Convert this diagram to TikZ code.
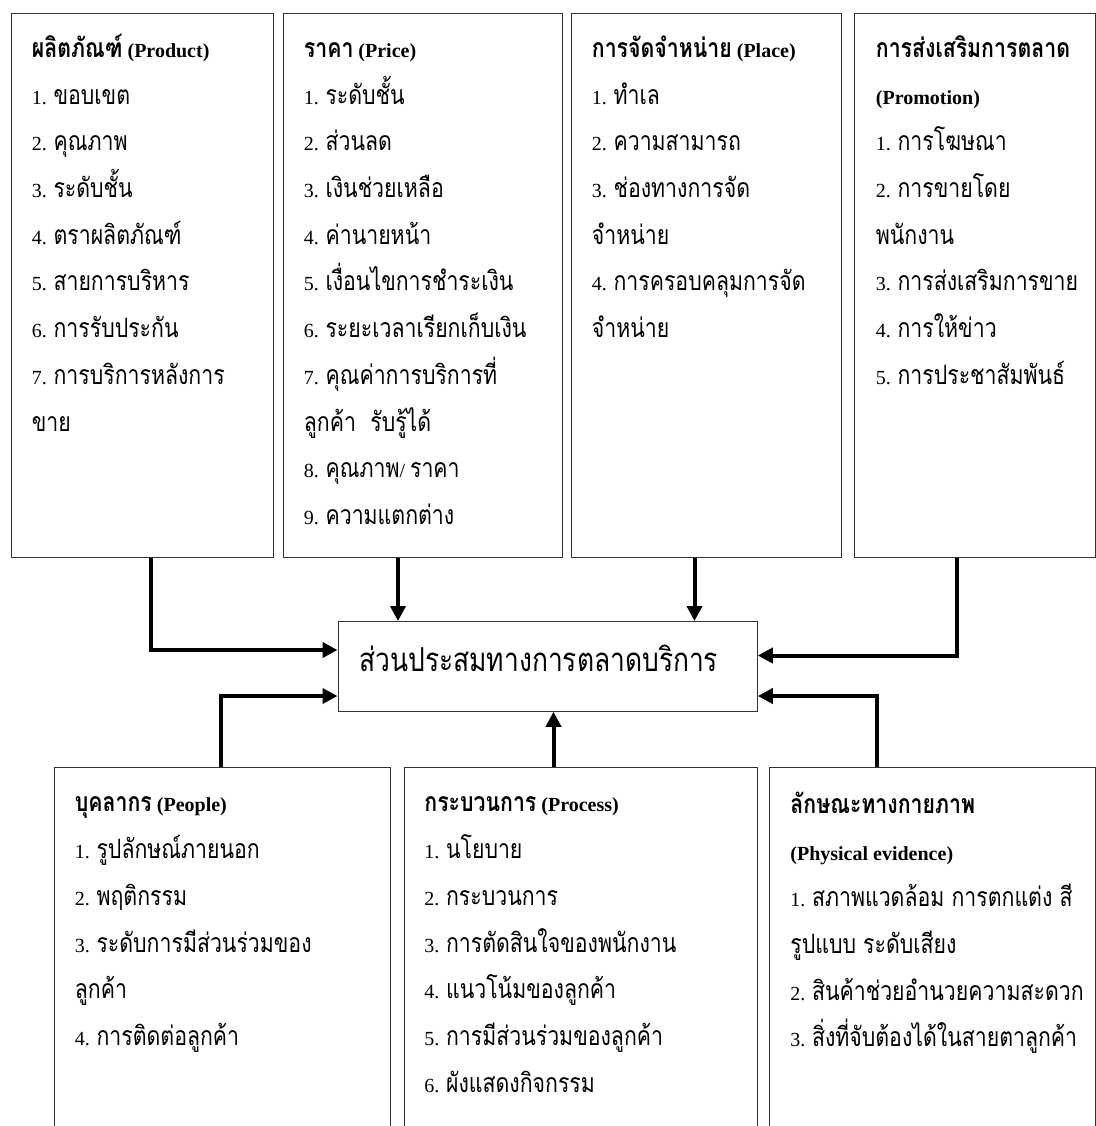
\documentclass[tikz,border=0pt]{standalone}
\usepackage{fontspec}
\setmainfont{Liberation Serif}
\newfontfamily\thai[Script=Thai,Scale=1.33,FakeStretch=0.8]{Loma}
\newcommand\T[1]{{\thai #1}}
\newcommand\Z{\rule{0pt}{14pt}}
\usetikzlibrary{arrows.meta}
\tikzset{
  box/.style={draw=black!80, line width=0.65pt, inner sep=0pt, anchor=north west},
  conn/.style={line width=2pt, -{Triangle[length=7.5pt,width=7.5pt]}},
  txt/.style={inner sep=0pt, anchor=north west, align=left, font=\fontsize{10}{23.35}\selectfont},
}
\begin{document}
\begin{tikzpicture}[x=0.5pt,y=-0.5pt]
\useasboundingbox (0,0) rectangle (1096,1126);
% top boxes
\node[box, minimum width=131pt, minimum height=272pt] (prod) at (10.5,13) {};
\node[box, minimum width=139.5pt, minimum height=272pt] (price) at (283,13) {};
\node[box, minimum width=135pt, minimum height=272pt] (place) at (570.5,13) {};
\node[box, minimum width=120.25pt, minimum height=272pt] (promo) at (854,13) {};
% centre box
\node[box, minimum width=209.5pt, minimum height=44.75pt] (mix) at (337.5,621) {};
% bottom boxes (cut by the lower edge)
\node[box, minimum width=168pt, minimum height=186.75pt] (people) at (54,766.5) {};
\node[box, minimum width=176.5pt, minimum height=186.75pt] (process) at (403.5,766.5) {};
\node[box, minimum width=163pt, minimum height=186.75pt] (phys) at (768.5,766.5) {};

% texts
\node[txt] (prodT) at (31.5,29) {\Z\textbf{\T{ผลิตภัณฑ์} (Product)}\\
1. \T{ขอบเขต}\\
2. \T{คุณภาพ}\\
3. \T{ระดับชั้น}\\
4. \T{ตราผลิตภัณฑ์}\\
5. \T{สายการบริหาร}\\
6. \T{การรับประกัน}\\
7. \T{การบริการหลังการ}\\
\T{ขาย}};

\node[txt] (priceT) at (303.5,29) {\Z\textbf{\T{ราคา} (Price)}\\
1. \T{ระดับชั้น}\\
2. \T{ส่วนลด}\\
3. \T{เงินช่วยเหลือ}\\
4. \T{ค่านายหน้า}\\
5. \T{เงื่อนไขการชำระเงิน}\\
6. \T{ระยะเวลาเรียกเก็บเงิน}\\
7. \T{คุณค่าการบริการที่}\\
\T{ลูกค้า\ \ รับรู้ได้}\\
8. \T{คุณภาพ}/ \T{ราคา}\\
9. \T{ความแตกต่าง}};

\node[txt] (placeT) at (591.5,29) {\Z\textbf{\T{การจัดจำหน่าย} (Place)}\\
1. \T{ทำเล}\\
2. \T{ความสามารถ}\\
3. \T{ช่องทางการจัด}\\
\T{จำหน่าย}\\
4. \T{การครอบคลุมการจัด}\\
\T{จำหน่าย}};

\node[txt] (promoT) at (875.5,29) {\Z\textbf{\T{การส่งเสริมการตลาด}}\\
\textbf{(Promotion)}\\
1. \T{การโฆษณา}\\
2. \T{การขายโดย}\\
\T{พนักงาน}\\
3. \T{การส่งเสริมการขาย}\\
4. \T{การให้ข่าว}\\
5. \T{การประชาสัมพันธ์}};

\node[inner sep=0pt, anchor=base west, font=\fontsize{12.4}{14}\selectfont] (mixT) at (359,671.7) {\T{ส่วนประสมทางการตลาดบริการ}};

\node[txt] (peopleT) at (74.5,783.5) {\Z\textbf{\T{บุคลากร} (People)}\\
1. \T{รูปลักษณ์ภายนอก}\\
2. \T{พฤติกรรม}\\
3. \T{ระดับการมีส่วนร่วมของ}\\
\T{ลูกค้า}\\
4. \T{การติดต่อลูกค้า}};

\node[txt] (processT) at (424,783.5) {\Z\textbf{\T{กระบวนการ} (Process)}\\
1. \T{นโยบาย}\\
2. \T{กระบวนการ}\\
3. \T{การตัดสินใจของพนักงาน}\\
4. \T{แนวโน้มของลูกค้า}\\
5. \T{การมีส่วนร่วมของลูกค้า}\\
6. \T{ผังแสดงกิจกรรม}};

\node[txt] (physT) at (790,785) {\Z\textbf{\T{ลักษณะทางกายภาพ}}\\
\textbf{(Physical evidence)}\\
1. \T{สภาพแวดล้อม การตกแต่ง สี}\\
\T{รูปแบบ ระดับเสียง}\\
2. \T{สินค้าช่วยอำนวยความสะดวก}\\
3. \T{สิ่งที่จับต้องได้ในสายตาลูกค้า}};

% connectors
\draw[conn] (prod.south -| 151,0) |- (mix.west |- 0,650);
\draw[conn] (price.south -| 398,0) -- (mix.north -| 398,0);
\draw[conn] (place.south -| 694.5,0) -- (mix.north -| 694.5,0);
\draw[conn] (promo.south -| 957,0) |- (mix.east |- 0,655.5);
\draw[conn] (people.north -| 221,0) |- (mix.west |- 0,696);
\draw[conn] (process.north -| 553.5,0) -- (mix.south -| 553.5,0);
\draw[conn] (phys.north -| 876.5,0) |- (mix.east |- 0,696);
\end{tikzpicture}
\end{document}
